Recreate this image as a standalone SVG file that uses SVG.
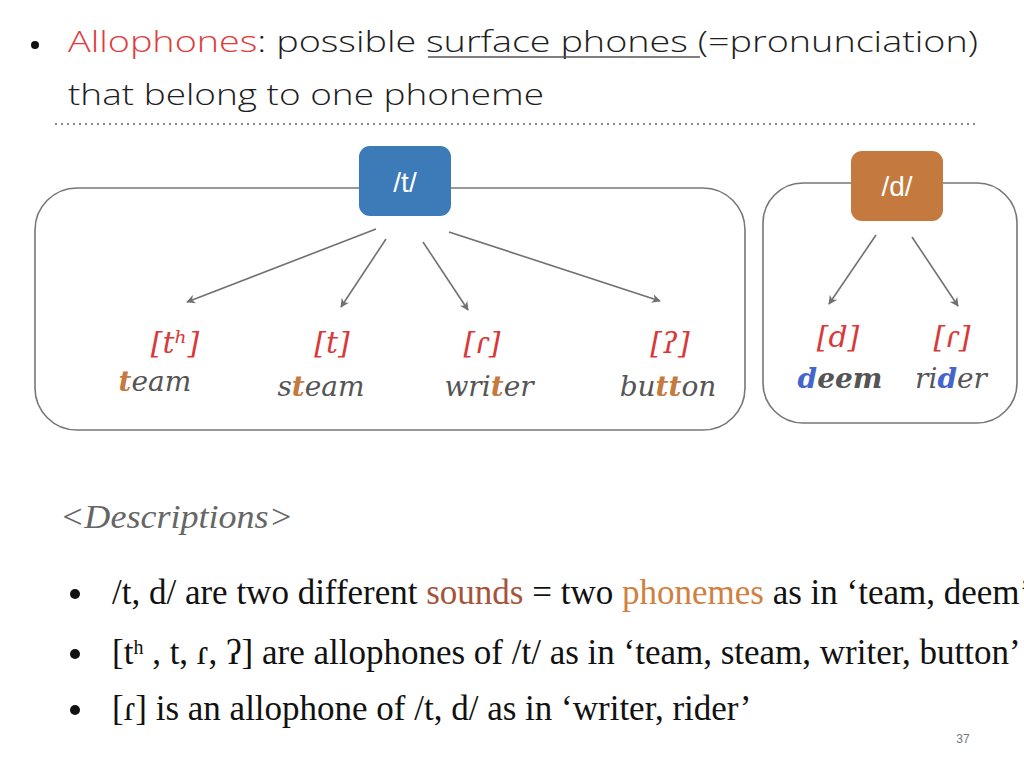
<svg xmlns="http://www.w3.org/2000/svg" width="1024" height="768" viewBox="0 0 1024 768">
<defs>
<marker id="ah" viewBox="0 0 10 10" refX="9" refY="5" markerWidth="9" markerHeight="9" markerUnits="userSpaceOnUse" orient="auto"><path d="M0,0 L10,5 L0,10 L3,5 z" fill="#707070"/></marker>
<style>
.title{font-family:"Open Sans","Noto Sans",sans-serif;font-weight:300;font-size:30px;fill:#1e1e1e}
.grp{fill:none;stroke:#777;stroke-width:1.6}
.conn line{stroke:#707070;stroke-width:1.6;marker-end:url(#ah)}
.ipa{font-family:"DejaVu Serif",serif;font-style:italic;font-size:30px;fill:#D9393A;text-anchor:middle}
.word{font-family:"DejaVu Serif",serif;font-style:italic;font-size:28px;fill:#555;text-anchor:middle}
.hl{fill:#C47A3E;font-weight:bold}
.bl{fill:#4466CC;font-weight:bold}
.nodet{font-family:"Liberation Sans",sans-serif;font-size:28px;fill:#fff;text-anchor:middle}
.desc{font-family:"Liberation Serif",serif;font-size:35px;fill:#111}
</style>
</defs>
<rect width="1024" height="768" fill="#fff"/>
<g id="header">
<circle cx="35" cy="45" r="4" fill="#111"/>
<text class="title" x="68" y="52" textLength="910" lengthAdjust="spacingAndGlyphs"><tspan fill="#E03C3C">Allophones</tspan>: possible surface phones (=pronunciation)</text>
<line x1="428" y1="57" x2="700" y2="57" stroke="#555" stroke-width="1.5"/>
<text class="title" x="68" y="105" textLength="476" lengthAdjust="spacingAndGlyphs">that belong to one phoneme</text>
<line x1="55" y1="124" x2="975" y2="124" stroke="#888" stroke-width="2" stroke-dasharray="2 4"/>
</g>
<g id="group-t"><rect class="grp" x="35" y="188" width="710" height="242" rx="42"/></g>
<g id="group-d"><rect class="grp" x="763" y="183" width="254" height="240" rx="40"/></g>
<g id="node-t"><rect x="359" y="146" width="92" height="70" rx="11" fill="#3C7BB8"/><text class="nodet" x="405" y="192">/t/</text></g>
<g id="node-d"><rect x="851" y="151" width="92" height="70" rx="11" fill="#C47A3E"/><text class="nodet" x="897" y="196">/d/</text></g>
<g class="conn" id="connectors">
<line x1="376" y1="229" x2="187" y2="302"/>
<line x1="386" y1="239" x2="341" y2="307"/>
<line x1="423" y1="242" x2="468" y2="310"/>
<line x1="449" y1="232" x2="660" y2="301"/>
<line x1="876" y1="235" x2="829" y2="304"/>
<line x1="912" y1="237" x2="958" y2="306"/>
</g>
<g id="allo-th"><text class="ipa" x="175" y="353">[tʰ]</text><text class="word" x="155" y="391"><tspan class="hl">t</tspan>eam</text></g>
<g id="allo-t"><text class="ipa" x="332" y="353">[t]</text><text class="word" x="321" y="396">s<tspan class="hl">t</tspan>eam</text></g>
<g id="allo-flap"><text class="ipa" x="482" y="353">[ɾ]</text><text class="word" x="489" y="396">wri<tspan class="hl">t</tspan>er</text></g>
<g id="allo-glottal"><text class="ipa" x="670" y="353">[ʔ]</text><text class="word" x="668" y="396">bu<tspan class="hl">tt</tspan>on</text></g>
<g id="allo-d"><text class="ipa" x="838" y="347">[d]</text><text class="word" x="840" y="388" font-weight="bold"><tspan class="bl">d</tspan>eem</text></g>
<g id="allo-dflap"><text class="ipa" x="952" y="347">[ɾ]</text><text class="word" x="951" y="388">ri<tspan class="bl">d</tspan>er</text></g>
<g id="descriptions">
<text x="60" y="528" font-family="Liberation Serif,serif" font-style="italic" font-size="33" fill="#666" textLength="233" lengthAdjust="spacingAndGlyphs">&lt;Descriptions&gt;</text>
<circle cx="75" cy="594" r="5" fill="#111"/>
<text class="desc" x="112" y="604">/t, d/ are two different <tspan fill="#A5533A">sounds</tspan> = two <tspan fill="#D08040">phonemes</tspan> as in ‘team, deem’</text>
<circle cx="75" cy="654" r="5" fill="#111"/>
<text class="desc" x="112" y="664">[t<tspan font-size="20" dy="-10">h</tspan><tspan dy="10"> , t, ɾ, ʔ] are allophones of /t/ as in ‘team, steam, writer, button’</tspan></text>
<circle cx="75" cy="710" r="5" fill="#111"/>
<text class="desc" x="112" y="720">[ɾ] is an allophone of /t, d/ as in ‘writer, rider’</text>
<text x="963" y="743" font-family="Liberation Sans,sans-serif" font-size="12" fill="#777" text-anchor="middle">37</text>
</g>
</svg>
